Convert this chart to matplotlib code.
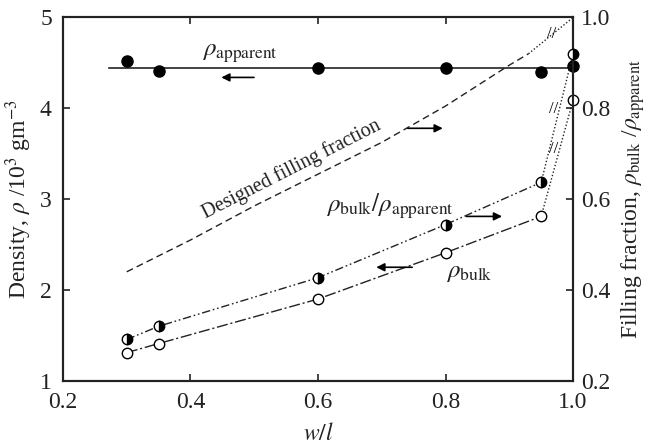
import matplotlib.pyplot as plt

plt.rcParams['font.family'] = ['Liberation Serif', 'DejaVu Serif']
plt.rcParams['mathtext.fontset'] = 'stix'

ink = '#222222'

# Measured points
w_l = [0.3, 0.35, 0.6, 0.8, 0.95, 1.0]
rho_apparent = [4.525, 4.415, 4.44, 4.44, 4.405, 4.47]
rho_bulk = [1.31, 1.41, 1.90, 2.41, 2.81, 4.09]
bulk_over_apparent = [0.291, 0.32, 0.427, 0.544, 0.637, 0.92]

# Mean apparent density line
apparent_mean = 4.44
apparent_x = [0.272, 1.0]

# Designed filling fraction
design_x = [0.3, 0.4, 0.5, 0.6, 0.7, 0.8, 0.9, 0.93, 1.0]
design_y = [0.44, 0.51, 0.585, 0.655, 0.725, 0.805, 0.895, 0.92, 1.0]

fig = plt.figure(figsize=(6.49, 4.48), dpi=100)
ax = fig.add_axes([0.097, 0.15, 0.786, 0.811])
ax2 = ax.twinx()

# -------------------------
# Left axis: densities
# -------------------------
ax.plot(apparent_x, [apparent_mean, apparent_mean], color=ink, lw=1.2)
ax.plot(w_l, rho_apparent, 'o', ms=8, color='black', zorder=5, clip_on=False)

ax.plot(w_l[:5], rho_bulk[:5], color=ink, lw=1, ls=(0, (8, 2, 1.5, 2)))
ax.plot(w_l[4:], rho_bulk[4:], color=ink, lw=1, ls=(0, (1, 1.5)))
ax.plot(w_l, rho_bulk, 'o', ms=7.5, mfc='white', mec='black', mew=1,
        zorder=5, clip_on=False)

# -------------------------
# Right axis: filling fractions
# -------------------------
ax2.plot(design_x[:8], design_y[:8], color=ink, lw=1, ls=(0, (5, 3)))
ax2.plot(design_x[7:], design_y[7:], color=ink, lw=1, ls=(0, (1, 1.5)))

ax2.plot(w_l[:5], bulk_over_apparent[:5], color=ink, lw=1,
         ls=(0, (6, 2, 1.2, 2, 1.2, 2)))
ax2.plot(w_l[4:], bulk_over_apparent[4:], color=ink, lw=1, ls=(0, (1, 1.5)))
ax2.plot(w_l, bulk_over_apparent, 'o', ms=7.5, fillstyle='right',
         mfc='black', mfcalt='white', mec='black', mew=1, zorder=5,
         clip_on=False)

# break marks on the last segments
brk = dict(fontsize=12, color='black', ha='center', va='center', zorder=6)
ax.text((w_l[4] + w_l[5]) / 2 - 0.006, (rho_bulk[4] + rho_bulk[5]) / 2 + 0.1,
        '//', **brk)
ax2.text((w_l[4] + w_l[5]) / 2 - 0.006,
         (bulk_over_apparent[4] + bulk_over_apparent[5]) / 2 + 0.02,
         '//', **brk)
ax2.text(0.967, 0.963, '//', **brk)

# -------------------------
# Labels and arrows
# -------------------------
arrow = dict(arrowstyle='-|>', color='black', lw=1.2, mutation_scale=12)
ax.annotate('', xy=(0.444, 4.34), xytext=(0.504, 4.34), arrowprops=arrow)
ax.annotate('', xy=(0.80, 3.78), xytext=(0.736, 3.78), arrowprops=arrow)
ax.annotate('', xy=(0.893, 2.81), xytext=(0.828, 2.81), arrowprops=arrow)
ax.annotate('', xy=(0.687, 2.25), xytext=(0.752, 2.25), arrowprops=arrow)

ax.text(0.478, 4.6, r'$\rho_{\mathrm{apparent}}$', fontsize=18, color=ink,
        ha='center', va='center')
ax.text(0.559, 3.33, 'Designed filling fraction', fontsize=14.5, color=ink,
        ha='center', va='center', rotation=27)
ax.text(0.713, 2.92, r'$\rho_{\mathrm{bulk}}/\rho_{\mathrm{apparent}}$',
        fontsize=18, color=ink, ha='center', va='center')
ax.text(0.837, 2.19, r'$\rho_{\mathrm{bulk}}$', fontsize=18, color=ink,
        ha='center', va='center')

# -------------------------
# Axes formatting
# -------------------------
ax.set_xlim(0.2, 1.0)
ax.set_ylim(1, 5)
ax2.set_ylim(0.2, 1.0)
ax.set_xticks([0.2, 0.4, 0.6, 0.8, 1.0])
ax.set_xticklabels(['0.2', '0.4', '0.6', '0.8', '1.0'])
ax.set_yticks([1, 2, 3, 4, 5])
ax2.set_yticks([0.2, 0.4, 0.6, 0.8, 1.0])
ax2.set_yticklabels(['0.2', '0.4', '0.6', '0.8', '1.0'])

ax.tick_params(axis='x', direction='in', length=5, width=1.2, labelsize=17,
               colors=ink, top=True, pad=8)
ax.tick_params(axis='y', direction='in', length=5, width=1.2, labelsize=17,
               colors=ink, pad=8)
ax2.tick_params(direction='in', length=5, width=1.2, labelsize=17,
                colors=ink, pad=6)
for a in (ax, ax2):
    for s in a.spines.values():
        s.set_linewidth(1.5)
        s.set_color(ink)

ax.set_xlabel(r'$w/l$', fontsize=17, color=ink, labelpad=7)
ax.set_ylabel(r'Density, $\rho$ /10$^3$ gm$^{-3}$', fontsize=17, color=ink,
              labelpad=4)
ax2.set_ylabel(r'Filling fraction, $\rho_{\mathrm{bulk}}$ /$\rho_{\mathrm{apparent}}$',
               fontsize=17, color=ink, labelpad=6)

fig.savefig('out.png', dpi=100)
